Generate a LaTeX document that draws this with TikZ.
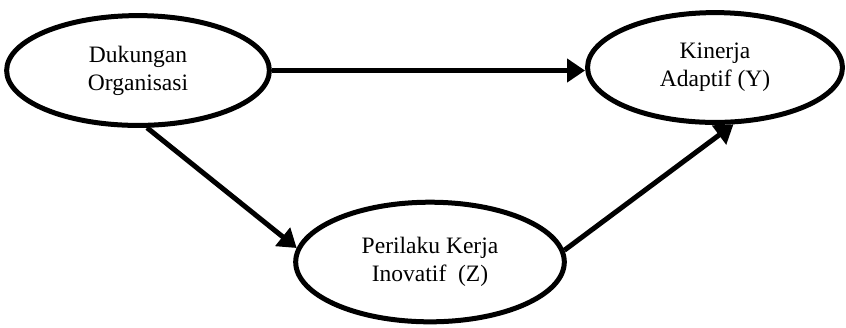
\documentclass[tikz,border=0pt]{standalone}
\usepackage{fontspec}
\setmainfont{Liberation Serif}
\usetikzlibrary{shapes.geometric,arrows.meta}

\begin{document}
\begin{tikzpicture}[line join=round,x=0.51pt,y=-0.51pt,
		var/.style={ellipse,draw,line width=2.55pt,align=center,inner sep=0pt,
			font=\fontsize{12}{14.3}\selectfont},
		arr/.style={-{Triangle[length=9.2pt,width=11.7pt]},line width=2.55pt}]
				\useasboundingbox (0,0) rectangle (846,327);
				
				% Variabel
				\node[var,minimum width=134pt,minimum height=56pt] (DO) at (138,70.5) {Dukungan\\Organisasi};
				\node[var,minimum width=130pt,minimum height=56pt] (KA) at (715,67.5) {Kinerja\\Adaptif (Y)};
				\node[var,minimum width=137pt,minimum height=61pt] (PK) at (430,262) {Perilaku Kerja\\Inovatif~~(Z)};
				
				%% Panah
				\draw[arr] (DO.east) -- (DO.east -| KA.west);
				\draw[arr] (DO.-81) -- (PK.174);
				\draw[arr] (PK.5) -- (KA.-72);
			\end{tikzpicture}
\end{document}
